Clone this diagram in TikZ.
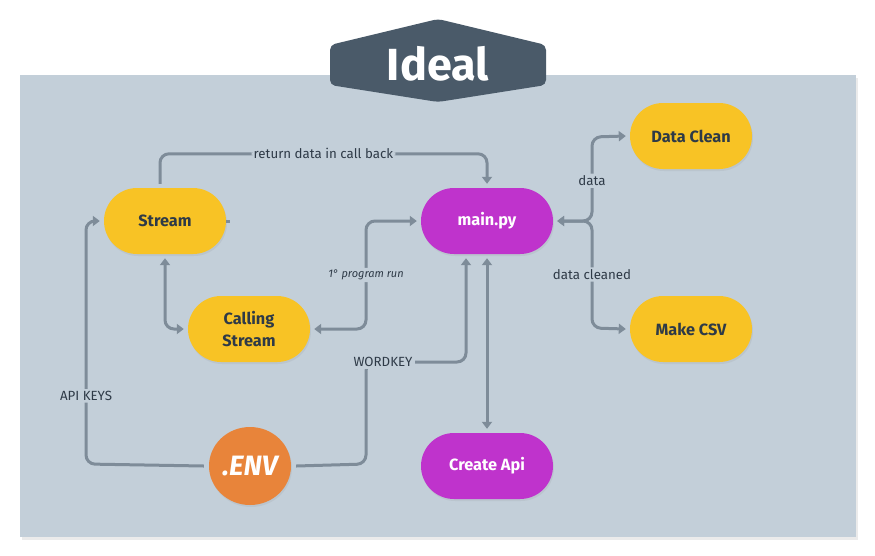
\documentclass[tikz,border=0pt]{standalone}
\usepackage{fontspec}
\setmainfont{Fira Sans}
\usetikzlibrary{arrows.meta,shadows,positioning,shapes.geometric}
\definecolor{bg}{HTML}{C3CFD9}
\definecolor{titlec}{HTML}{4A5A69}
\definecolor{yel}{HTML}{F8C325}
\definecolor{pur}{HTML}{BF33CC}
\definecolor{ora}{HTML}{E8843A}
\definecolor{linec}{HTML}{7E8C99}
\definecolor{txt}{HTML}{2E3A47}
\tikzset{
  pill/.style={rounded corners=33pt, minimum width=122pt, minimum height=66pt, inner sep=2pt,
     font=\fontsize{16.3}{22}\selectfont\bfseries, align=center,
     drop shadow={opacity=0.12, shadow xshift=1pt, shadow yshift=-2pt}},
  ypill/.style={pill, fill=yel, text=txt},
  ppill/.style={pill, fill=pur, text=white, minimum width=132pt},
  conn/.style={draw=linec, line width=3pt, rounded corners=9pt, -{Triangle[length=7pt,width=10pt]}},
  conn2/.style={conn, {Triangle[length=7pt,width=10pt]}-{Triangle[length=7pt,width=10pt]}},
  plain/.style={draw=linec, line width=3pt, rounded corners=9pt},
  lbl/.style={fill=bg, inner sep=2pt, text=txt, font=\fontsize{13.3}{15}\selectfont},
}
\begin{document}
\begin{tikzpicture}[x=1pt,y=-1pt]
\useasboundingbox (0,0) rectangle (875,555);
% panel
\fill[black, opacity=0.08] (22,78) rectangle (858,540);
\fill[bg] (20,75) rectangle (856,537);
% title
\fill[titlec, rounded corners=5pt] (330,45) -- (438,19) -- (546,45) -- (546,85) -- (438,102) -- (330,85) -- cycle;
\node[text=white, font=\fontsize{45}{48}\selectfont\bfseries] (title) at (438,64) {Ideal};
% nodes
\node[ypill] (stream) at (165,221) {Stream};
\node[ypill] (calling) at (249,329) {Calling\\Stream};
\node[ppill] (main) at (487,221) {main.py};
\node[ypill] (dclean) at (691,136) {Data Clean};
\node[ypill] (csv) at (691,329) {Make CSV};
\node[ppill] (api) at (487,466) {Create Api};
\node[ellipse, fill=ora, minimum width=82pt, minimum height=78pt, inner sep=0pt, text=white,
      font=\fontsize{28}{30}\selectfont\bfseries\itshape,
      drop shadow={opacity=0.12, shadow xshift=1pt, shadow yshift=-2pt}] (env) at (250,466) {.ENV};
% connectors
\draw[conn] ([xshift=-5pt,yshift=4pt]stream.north) |- node[lbl, pos=0.75] {return data in call back}
   ([yshift=34pt]main.north) -- ([yshift=4pt]main.north);
\draw[plain] (stream.east) -- ++(4,0);
\draw[conn2] ([yshift=-4pt]stream.south) |- ([xshift=-4pt]calling.west);
\draw[conn2] ([xshift=4pt]calling.east) -- (366,329) -- node[lbl, font=\fontsize{11}{12}\selectfont\itshape] {1° program run}
   (366,221) -- ([xshift=-4pt]main.west);
\draw[conn] ([xshift=5pt]env.east) -- (366,464) -- (366,362) -- (466,362) -- ([xshift=-21pt,yshift=-4pt]main.south);
\node[lbl] (wk) at (383,362) {WORDKEY};
\draw[conn] ([xshift=-5pt]env.west) -- (86,464) -- node[lbl, pos=0.28] {API KEYS} (86,221) -- ([xshift=-4pt]stream.west);
\draw[conn2] ([yshift=-4pt]main.south) -- ([yshift=4pt]api.north);
\draw[conn2] ([xshift=4pt]main.east) -- (592,221) -- node[lbl, pos=0.48] {data} (592,137) -- ([xshift=-4pt]dclean.west);
\draw[conn2] ([xshift=4pt]main.east) -- (592,221) -- node[lbl, pos=0.5] {data cleaned} (592,328) -- ([xshift=-4pt]csv.west);
\end{tikzpicture}
\end{document}
